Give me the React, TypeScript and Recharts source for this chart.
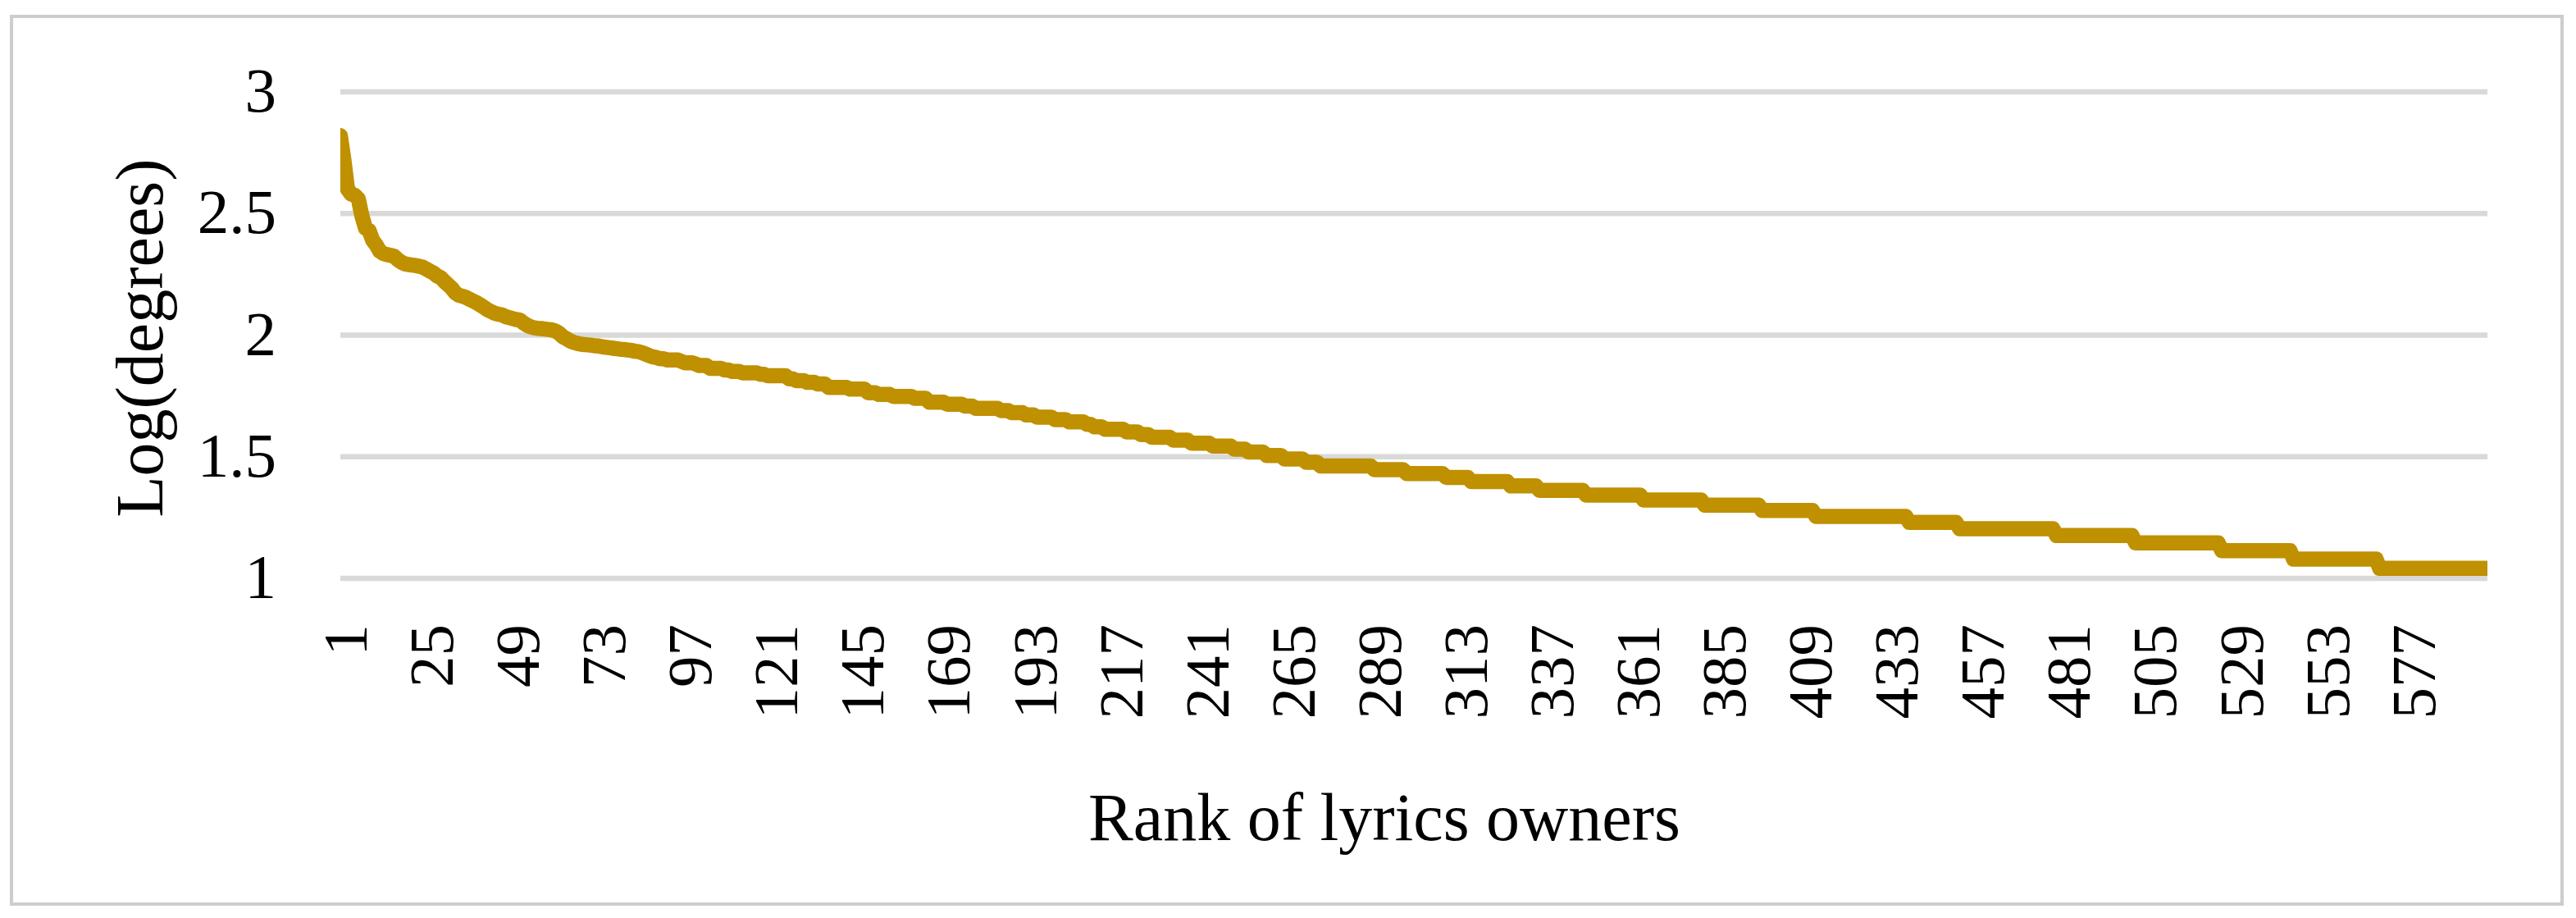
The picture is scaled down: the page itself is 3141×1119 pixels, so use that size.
import React from 'react';
import { LineChart, Line, XAxis, YAxis, CartesianGrid } from 'recharts';

// log10(degree) of the top-ranked lyrics owners, one value per rank (ranks 1..89)
const headLogDegrees = [
  2.82, 2.72, 2.6, 2.58, 2.575, 2.56, 2.49, 2.44, 2.43, 2.39,
  2.37, 2.345, 2.335, 2.331, 2.328, 2.324, 2.31, 2.3, 2.293, 2.29,
  2.288, 2.286, 2.283, 2.279, 2.271, 2.263, 2.255, 2.243, 2.236, 2.22,
  2.207, 2.193, 2.174, 2.164, 2.16, 2.155, 2.147, 2.14, 2.133, 2.124,
  2.114, 2.104, 2.097, 2.09, 2.086, 2.083, 2.076, 2.072, 2.068, 2.064,
  2.062, 2.05, 2.041, 2.034, 2.03, 2.028, 2.027, 2.025, 2.023, 2.021,
  2.016, 2.007, 1.993, 1.985, 1.976, 1.97, 1.966, 1.963, 1.961, 1.96,
  1.958, 1.956, 1.955, 1.952, 1.95, 1.948, 1.946, 1.944, 1.942, 1.941,
  1.939, 1.937, 1.934, 1.932, 1.928, 1.922, 1.916, 1.911, 1.908,
];

// from rank 90 on the curve is a staircase: first rank of each plateau and its level
const plateauStartRank = [
  90, 92, 96, 97, 100, 101, 104, 108, 110, 113,
  118, 120, 126, 128, 131, 134, 137, 143, 148, 151,
  155, 161, 165, 170, 175, 178, 185, 188, 192, 195,
  200, 204, 209, 211, 214, 220, 224, 227, 233, 238,
  244, 250, 254, 259, 264, 270, 274, 289, 298, 309,
  316, 327, 335, 348, 364, 381, 397, 412, 438, 452,
  479, 501, 525, 545, 569,
];
const plateauLogDegree = [
  1.903, 1.898, 1.892, 1.886, 1.881, 1.875, 1.863, 1.857, 1.851, 1.845,
  1.839, 1.833, 1.82, 1.813, 1.806, 1.799, 1.785, 1.778, 1.763, 1.756,
  1.748, 1.74, 1.724, 1.716, 1.708, 1.699, 1.69, 1.681, 1.672, 1.663,
  1.653, 1.643, 1.633, 1.623, 1.613, 1.602, 1.591, 1.58, 1.568, 1.556,
  1.544, 1.531, 1.519, 1.505, 1.491, 1.477, 1.462, 1.447, 1.431, 1.415,
  1.398, 1.38, 1.362, 1.342, 1.322, 1.301, 1.279, 1.255, 1.23, 1.204,
  1.176, 1.146, 1.114, 1.079, 1.041,
];
const lastRank = 599;

const yTicks = [1, 1.5, 2, 2.5, 3];
const xTicks = [1, 25, 49, 73, 97, 121, 145, 169, 193, 217, 241, 265, 289, 313, 337, 361, 385, 409, 433, 457, 481, 505, 529, 553, 577];
const xTitle = 'Rank of lyrics owners';
const yTitle = 'Log(degrees)';

const data: { rank: number; logDeg: number }[] = [];
for (let r = 1; r <= lastRank; r++) {
  let v: number;
  if (r <= headLogDegrees.length) {
    v = headLogDegrees[r - 1];
  } else {
    let k = 0;
    while (k + 1 < plateauStartRank.length && plateauStartRank[k + 1] <= r) k++;
    v = plateauLogDegree[k];
  }
  data.push({ rank: r, logDeg: v });
}

const FONT = '"Liberation Serif", "Times New Roman", serif';
const W = 3141;
const H = 1119;

const XTick = (props: any) => {
  const { x, payload } = props;
  const tx = x + 6;
  const ty = 761;
  return (
    <text
      x={tx}
      y={ty}
      transform={`rotate(-90 ${tx} ${ty})`}
      textAnchor="end"
      dominantBaseline="central"
      fontFamily={FONT}
      fontSize={77}
      fill="#000"
    >
      {payload.value}
    </text>
  );
};

const YTick = (props: any) => {
  const { y, payload } = props;
  return (
    <text x={337} y={y - 2} textAnchor="end" dominantBaseline="central" fontFamily={FONT} fontSize={77} fill="#000">
      {payload.value}
    </text>
  );
};

export default function App() {
  return (
    <div style={{ position: 'absolute', left: 0, top: 0, width: W, height: H, background: '#fff' }}>
      <div
        style={{
          position: 'absolute',
          left: 12,
          top: 18,
          width: 3114,
          height: 1086,
          boxSizing: 'border-box',
          border: '4px solid #CDCDCD',
        }}
      />
      <div style={{ position: 'absolute', left: 0, top: 0 }}>
        <LineChart width={W} height={H} data={data} margin={{ top: 112, right: 108, left: 0, bottom: 0 }}>
          <CartesianGrid horizontal vertical={false} stroke="#D9D9D9" strokeWidth={6.5} />
          <XAxis
            dataKey="rank"
            type="number"
            domain={[1, lastRank]}
            ticks={xTicks}
            interval={0}
            height={414}
            axisLine={false}
            tickLine={false}
            tick={<XTick />}
            allowDataOverflow
          />
          <YAxis
            type="number"
            domain={[1, 3]}
            ticks={yTicks}
            width={415}
            axisLine={false}
            tickLine={false}
            tick={<YTick />}
            allowDataOverflow
          />
          <Line
            type="linear"
            dataKey="logDeg"
            stroke="#BF9000"
            strokeWidth={18.5}
            strokeLinecap="round"
            strokeLinejoin="round"
            dot={false}
            activeDot={false}
            isAnimationActive={false}
          />
        </LineChart>
      </div>
      <svg width={W} height={H} style={{ position: 'absolute', left: 0, top: 0, pointerEvents: 'none' }}>
        <text x={1688} y={1024} textAnchor="middle" fontFamily={FONT} fontSize={82} fill="#000">
          {xTitle}
        </text>
        <text
          x={198}
          y={412}
          transform="rotate(-90 198 412)"
          textAnchor="middle"
          fontFamily={FONT}
          fontSize={82}
          fill="#000"
        >
          {yTitle}
        </text>
      </svg>
    </div>
  );
}
